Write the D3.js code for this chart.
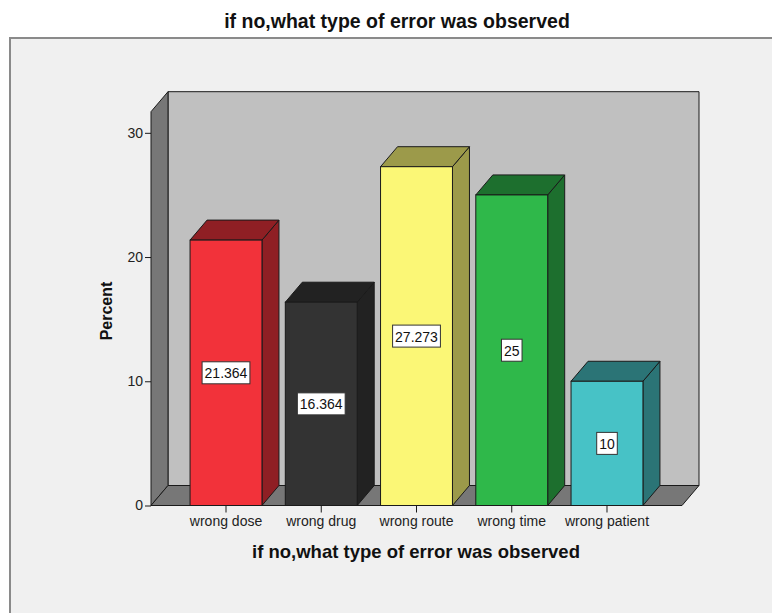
<!DOCTYPE html>
<html>
<head>
<meta charset="utf-8">
<script src="https://cdn.jsdelivr.net/npm/d3@7"></script>
<style>
  html, body { margin: 0; padding: 0; background: #ffffff; }
  svg { display: block; }
  text { font-family: "Liberation Sans", Arial, sans-serif; }
</style>
</head>
<body>
<svg id="chart" width="772" height="613"></svg>
<script>
// Frequency of observed error types (percent)
const categories = ["wrong dose", "wrong drug", "wrong route", "wrong time", "wrong patient"];
const percents = [21.364, 16.364, 27.273, 25, 10];
const valueLabels = ["21.364", "16.364", "27.273", "25", "10"];
const frontColors = ["#f2323a", "#333333", "#fbf776", "#2fb84a", "#47c2c6"];
const shadeColors = ["#8f1f24", "#222222", "#9c9a4a", "#1d6f2e", "#2b7476"];
const yTicks = [0, 10, 20, 30];
const yMax = 31.7;

const chartTitle = "if no,what type of error was observed";
const xTitle = "if no,what type of error was observed";
const yTitle = "Percent";

const svg = d3.select("#chart");

// plot geometry
const plotLeft = 151, plotRight = 682, plotBottom = 505.5, plotTop = 111.7;
const dx = 17, dy = -20; // depth offset of the 3D box

const x = d3.scaleBand().domain(categories).range([plotLeft, plotRight])
  .paddingInner(0.245).paddingOuter(0.41);
const y = d3.scaleLinear().domain([0, yMax]).range([plotBottom, plotTop]);

// outer frame
svg.append("rect").attr("x", 0).attr("y", 0).attr("width", 772).attr("height", 613).attr("fill", "#ffffff");
svg.append("rect").attr("x", 10).attr("y", 38).attr("width", 800).attr("height", 600)
  .attr("fill", "#f0f0f0").attr("stroke", "#8a8a8a").attr("stroke-width", 2);

// title
svg.append("text").attr("x", 397).attr("y", 28).attr("text-anchor", "middle")
  .attr("font-size", 19.5).attr("font-weight", "bold").attr("fill", "#111").text(chartTitle);

const poly = pts => pts.map(p => p.join(",")).join(" ");

// back wall, side wall and floor
const yT = y(yMax), y0 = y(0);
svg.append("polygon").attr("points", poly([[plotLeft + dx, yT + dy], [plotRight + dx, yT + dy], [plotRight + dx, y0 + dy], [plotLeft + dx, y0 + dy]]))
  .attr("fill", "#c0c0c0").attr("stroke", "#1a1a1a").attr("stroke-width", 1);
svg.append("polygon").attr("points", poly([[plotLeft, yT], [plotLeft + dx, yT + dy], [plotLeft + dx, y0 + dy], [plotLeft, y0]]))
  .attr("fill", "#777777").attr("stroke", "#1a1a1a").attr("stroke-width", 1);
svg.append("polygon").attr("points", poly([[plotLeft, y0], [plotLeft + dx, y0 + dy], [plotRight + dx, y0 + dy], [plotRight, y0]]))
  .attr("fill", "#777777").attr("stroke", "#1a1a1a").attr("stroke-width", 1);

// y axis
const yAxis = d3.axisLeft(y).tickValues(yTicks).tickSize(6).tickPadding(2).tickFormat(d3.format("d"));
const gy = svg.append("g").attr("transform", `translate(${plotLeft},0)`).call(yAxis);
gy.select(".domain").remove();
gy.selectAll(".tick line").attr("stroke", "#1a1a1a");
gy.selectAll(".tick text").attr("font-size", 14).attr("fill", "#222")
  .attr("font-family", "'Liberation Sans', Arial, sans-serif");

// x axis
const xAxis = d3.axisBottom(x).tickSize(7).tickPadding(4);
const gx = svg.append("g").attr("transform", `translate(0,${y0})`).call(xAxis);
gx.select(".domain").remove();
gx.selectAll(".tick line").attr("stroke", "#1a1a1a");
gx.selectAll(".tick text").attr("font-size", 14).attr("fill", "#222")
  .attr("font-family", "'Liberation Sans', Arial, sans-serif");

// 3D bars
const data = categories.map((c, i) => ({ c, v: percents[i], label: valueLabels[i], front: frontColors[i], shade: shadeColors[i] }));
const bars = svg.append("g").selectAll("g").data(data).join("g");
bars.each(function(d) {
  const g = d3.select(this);
  const x0 = x(d.c), x1 = x(d.c) + x.bandwidth(), yt = y(d.v);
  g.append("polygon").attr("points", poly([[x1, yt], [x1 + dx, yt + dy], [x1 + dx, y0 + dy], [x1, y0]]))
    .attr("fill", d.shade).attr("stroke", "#1a1a1a").attr("stroke-width", 1);
  g.append("polygon").attr("points", poly([[x0, yt], [x0 + dx, yt + dy], [x1 + dx, yt + dy], [x1, yt]]))
    .attr("fill", d.shade).attr("stroke", "#1a1a1a").attr("stroke-width", 1);
  g.append("rect").attr("x", x0).attr("y", yt).attr("width", x1 - x0).attr("height", y0 - yt)
    .attr("fill", d.front).attr("stroke", "#1a1a1a").attr("stroke-width", 1);
  // value label box
  const cx = (x0 + x1) / 2, cy = (yt + y0) / 2;
  const t = g.append("text").attr("x", cx).attr("y", cy + 5.5).attr("text-anchor", "middle")
    .attr("font-size", 14).attr("fill", "#111").text(d.label);
  const w = t.node().getComputedTextLength() + 5;
  g.insert("rect", "text").attr("x", cx - w / 2).attr("y", cy - 11).attr("width", w).attr("height", 22)
    .attr("fill", "#ffffff").attr("stroke", "#333").attr("stroke-width", 1);
});

// axis titles
svg.append("text").attr("x", 416).attr("y", 558).attr("text-anchor", "middle")
  .attr("font-size", 18.5).attr("font-weight", "bold").attr("fill", "#111").text(xTitle);
svg.append("text").attr("transform", "translate(112,311) rotate(-90)").attr("text-anchor", "middle")
  .attr("font-size", 16).attr("font-weight", "bold").attr("fill", "#111").text(yTitle);
</script>
</body>
</html>
